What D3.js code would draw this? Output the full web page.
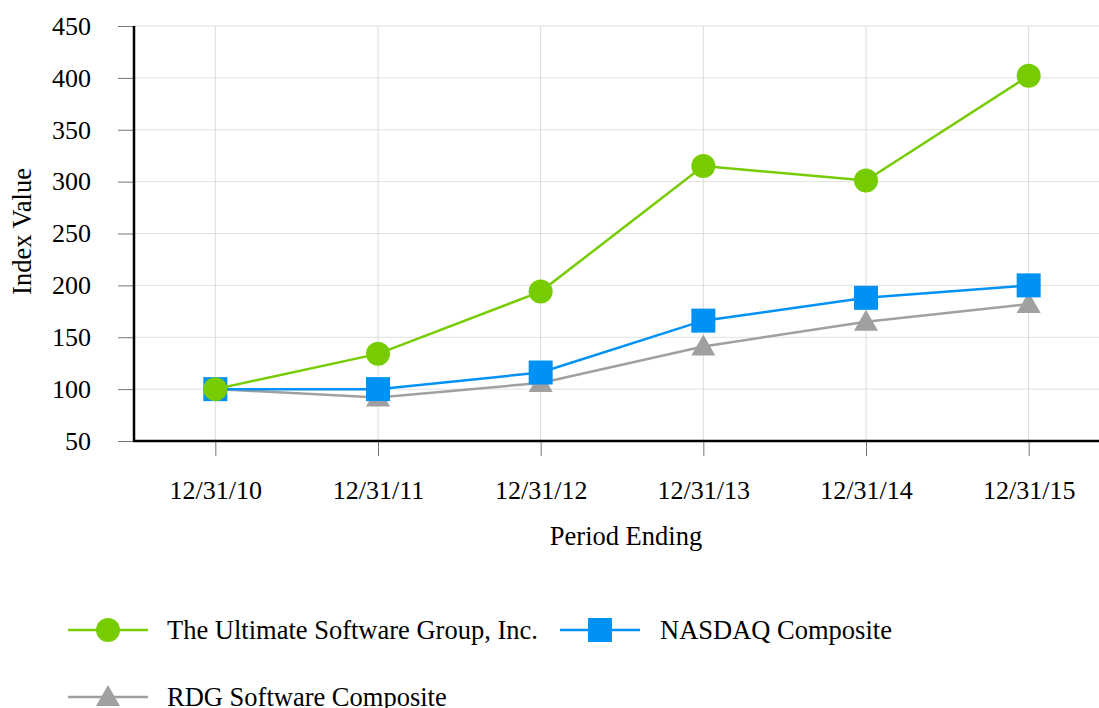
<!DOCTYPE html>
<html><head><meta charset="utf-8">
<script src="https://cdn.jsdelivr.net/npm/d3@7"></script>
<style>body{margin:0;background:#fff}svg{display:block}text{font-family:"Liberation Serif","Times New Roman",serif;fill:#000}</style>
</head><body>
<svg id="c" width="1099" height="708"></svg>
<script>
const categories = ["12/31/10","12/31/11","12/31/12","12/31/13","12/31/14","12/31/15"];
const ultimate = [100, 134, 194, 315, 301, 402];
const nasdaq = [100, 100, 116, 166, 188, 200];
const rdg = [100, 92, 106, 141, 165, 182];
const yTicks = [50,100,150,200,250,300,350,400,450];
const seriesNames = ["The Ultimate Software Group, Inc.","NASDAQ Composite","RDG Software Composite"];

(function(){
const series = [
  {name: seriesNames[0], values: ultimate, color: "#77cc00", shape: "circle"},
  {name: seriesNames[1], values: nasdaq, color: "#0091f5", shape: "square"},
  {name: seriesNames[2], values: rdg, color: "#a0a0a0", shape: "triangle"}
];

const svg = d3.select("#c");
const pLeft = 134, pTop = 26, pBottom = 441, pRight = 1110;
const x = d3.scalePoint().domain(categories).range([pLeft, pRight]).padding(0.5);
const y = d3.scaleLinear().domain([50, 450]).range([pBottom, pTop]);

// gridlines
svg.append("g").selectAll("line").data(yTicks.slice(1)).join("line")
  .attr("x1", pLeft).attr("x2", 1099).attr("y1", d=>y(d)).attr("y2", d=>y(d))
  .attr("stroke", "#e0e0e0").attr("stroke-width", 1);
svg.append("g").selectAll("line").data(categories).join("line")
  .attr("x1", d=>x(d)).attr("x2", d=>x(d)).attr("y1", pTop).attr("y2", pBottom)
  .attr("stroke", "#dcdcdc").attr("stroke-width", 1);

// y axis
const yAxis = d3.axisLeft(y).tickValues(yTicks).tickSize(16).tickPadding(27);
const gy = svg.append("g").attr("transform", `translate(${pLeft},0)`).call(yAxis);
gy.attr("font-family", null).attr("font-size", null);
gy.select(".domain").remove();
gy.selectAll(".tick line").attr("stroke", "#777");
gy.selectAll(".tick text").attr("font-size", 26).attr("fill","#000");

// x axis
const xAxis = d3.axisBottom(x).tickSize(15).tickPadding(25);
const gx = svg.append("g").attr("transform", `translate(0,${pBottom})`).call(xAxis);
gx.attr("font-family", null).attr("font-size", null);
gx.select(".domain").remove();
gx.selectAll(".tick line").attr("stroke", "#777");
gx.selectAll(".tick text").attr("font-size", 26).attr("fill","#000");

// axis lines
svg.append("line").attr("x1", pLeft).attr("x2", pLeft).attr("y1", pTop).attr("y2", pBottom+1)
  .attr("stroke", "#000").attr("stroke-width", 2.5);
svg.append("line").attr("x1", pLeft-1).attr("x2", 1099).attr("y1", pBottom).attr("y2", pBottom)
  .attr("stroke", "#000").attr("stroke-width", 2.5);

// titles
svg.append("text").attr("transform", `translate(31,${(pTop+pBottom)/2 - 2}) rotate(-90)`)
  .attr("text-anchor","middle").attr("font-size", 26.5).text("Index Value");
svg.append("text").attr("x", 626).attr("y", 545).attr("text-anchor","middle")
  .attr("font-size", 26.5).text("Period Ending");

function marker(g, shape, color, cx, cy) {
  if (shape === "circle") g.append("circle").attr("cx", cx).attr("cy", cy).attr("r", 12).attr("fill", color);
  else if (shape === "square") g.append("rect").attr("x", cx-12).attr("y", cy-12).attr("width", 24).attr("height", 24).attr("fill", color);
  else g.append("path").attr("d", `M${cx},${cy-12}L${cx+12},${cy+9}L${cx-12},${cy+9}Z`).attr("fill", color);
}

const line = d3.line().x((d,i)=>x(categories[i])).y(d=>y(d));
[...series].reverse().forEach(s => {
  const g = svg.append("g");
  g.append("path").attr("d", line(s.values)).attr("fill","none").attr("stroke", s.color).attr("stroke-width", 2.5);
  s.values.forEach((v,i)=> marker(g, s.shape, s.color, x(categories[i]), y(v)));
});

// legend
const legendPos = [{lx:68, ly:630, tx:167},{lx:560, ly:630, tx:660},{lx:68, ly:697, tx:167}];
series.forEach((s,i)=>{
  const p = legendPos[i];
  const g = svg.append("g");
  g.append("line").attr("x1", p.lx).attr("x2", p.lx+80).attr("y1", p.ly).attr("y2", p.ly).attr("stroke", s.color).attr("stroke-width", 2.5);
  marker(g, s.shape, s.color, p.lx+40, p.ly);
  g.append("text").attr("x", p.tx).attr("y", p.ly+9).attr("font-size", 26.5).text(s.name);
});
})();
</script>
</body></html>
